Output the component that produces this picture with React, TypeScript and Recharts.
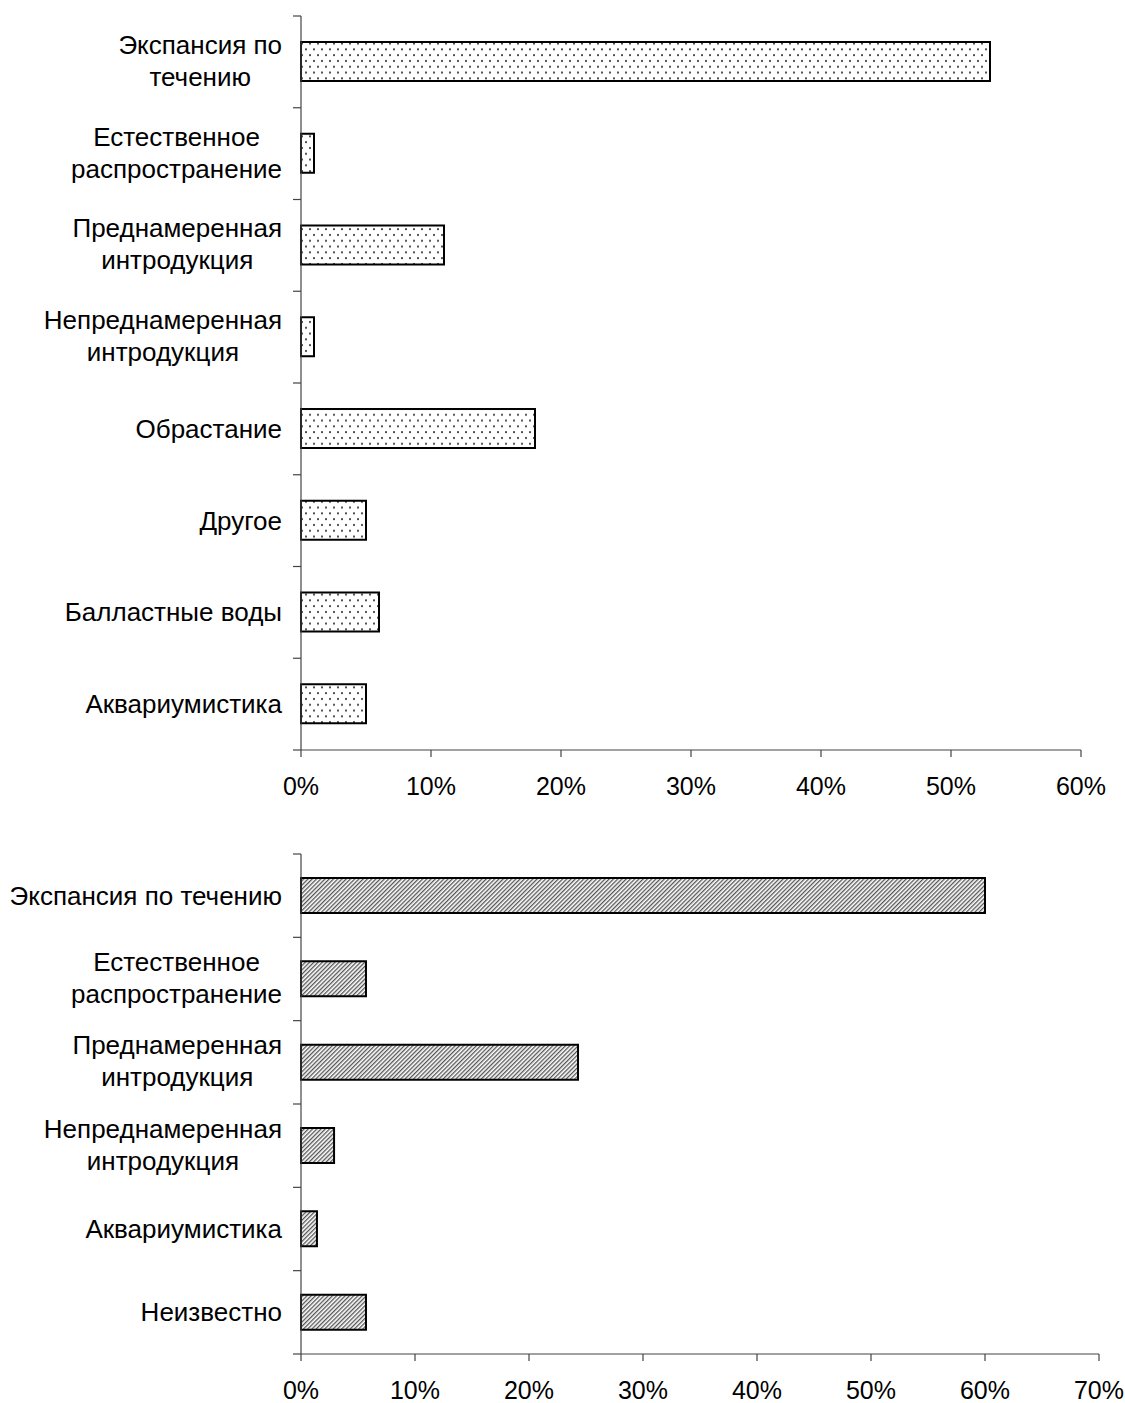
import React from 'react';
import { BarChart, Bar, XAxis, YAxis } from 'recharts';

// Top panel: pathways (share of species, %)
const topCategories = [
  'Экспансия по\nтечению',
  'Естественное\nраспространение',
  'Преднамеренная\nинтродукция',
  'Непреднамеренная\nинтродукция',
  'Обрастание',
  'Другое',
  'Балластные воды',
  'Аквариумистика',
];
const topShares = [53, 1, 11, 1, 18, 5, 6, 5];
const topTicks = [0, 10, 20, 30, 40, 50, 60];

// Bottom panel
const bottomCategories = [
  'Экспансия по течению',
  'Естественное\nраспространение',
  'Преднамеренная\nинтродукция',
  'Непреднамеренная\nинтродукция',
  'Аквариумистика',
  'Неизвестно',
];
const bottomShares = [60, 5.7, 24.3, 2.9, 1.4, 5.7];
const bottomTicks = [0, 10, 20, 30, 40, 50, 60, 70];

const FONT = '"Liberation Sans", Arial, sans-serif';
const LABEL_SIZE = 26;
const TICK_SIZE = 25;
const LINE_GAP = 32;
const AXIS_COLOR = '#444';

const topData = topCategories.map((name, i) => ({ name, value: topShares[i] }));
const bottomData = bottomCategories.map((name, i) => ({ name, value: bottomShares[i] }));

let measureCtx: CanvasRenderingContext2D | null = null;
function textWidth(s: string): number {
  if (!measureCtx) {
    measureCtx = document.createElement('canvas').getContext('2d');
  }
  if (!measureCtx) return s.length * LABEL_SIZE * 0.55;
  measureCtx.font = `${LABEL_SIZE}px "Liberation Sans"`;
  return measureCtx.measureText(s).width;
}

// Category label: lines centred as a block whose right edge sits left of the axis,
// plus a small tick mark on each band boundary.
function CategoryTick(props: any) {
  const { y, payload, index, count, fallbackHalf, axisX } = props;
  const half = payload && typeof payload.offset === 'number' && payload.offset > 0 ? payload.offset : fallbackHalf;
  const lines: string[] = String(payload.value).split('\n');
  const maxW = Math.max(...lines.map(textWidth));
  const right = axisX - 19;
  const cx = right - maxW / 2;
  const firstBaseline = lines.length === 1 ? y + 9 : y - 8;
  return (
    <g>
      <line x1={axisX - 8} x2={axisX} y1={y - half} y2={y - half} stroke={AXIS_COLOR} strokeWidth={1.2} />
      {index === count - 1 && (
        <line x1={axisX - 8} x2={axisX} y1={y + half} y2={y + half} stroke={AXIS_COLOR} strokeWidth={1.2} />
      )}
      {lines.map((ln, i) => (
        <text
          key={i}
          x={cx}
          y={firstBaseline + i * LINE_GAP}
          textAnchor="middle"
          fontFamily={FONT}
          fontSize={LABEL_SIZE}
          fill="#000"
        >
          {ln}
        </text>
      ))}
    </g>
  );
}

function PercentTick(props: any) {
  const { x, y, payload } = props;
  return (
    <text x={x} y={y} dy={38} textAnchor="middle" fontFamily={FONT} fontSize={TICK_SIZE} fill="#000">
      {`${payload.value}%`}
    </text>
  );
}

type PanelProps = {
  data: { name: string; value: number }[];
  ticks: number[];
  top: number;
  height: number;
  marginTop: number;
  marginRight: number;
  barSize: number;
  fill: string;
};

const AXIS_WIDTH = 301;
const X_AXIS_HEIGHT = 50;

function Panel({ data, ticks, top, height, marginTop, marginRight, barSize, fill }: PanelProps) {
  const plotH = height - marginTop - X_AXIS_HEIGHT;
  const fallbackHalf = plotH / data.length / 2;
  return (
    <div style={{ position: 'absolute', left: 0, top }}>
      <BarChart
        width={1125}
        height={height}
        data={data}
        layout="vertical"
        margin={{ top: marginTop, right: marginRight, bottom: 0, left: 0 }}
        style={{ fontFamily: FONT }}
      >
        <XAxis
          type="number"
          domain={[ticks[0], ticks[ticks.length - 1]]}
          ticks={ticks}
          interval={0}
          height={X_AXIS_HEIGHT}
          tickSize={7}
          tickMargin={0}
          axisLine={{ stroke: AXIS_COLOR, strokeWidth: 1.2 }}
          tickLine={{ stroke: AXIS_COLOR, strokeWidth: 1.2 }}
          tick={<PercentTick />}
        />
        <YAxis
          type="category"
          dataKey="name"
          width={AXIS_WIDTH}
          interval={0}
          axisLine={{ stroke: AXIS_COLOR, strokeWidth: 1.2 }}
          tickLine={false}
          tick={(p: any) => (
            <CategoryTick {...p} count={data.length} fallbackHalf={fallbackHalf} axisX={AXIS_WIDTH} />
          )}
        />
        <Bar
          dataKey="value"
          barSize={barSize}
          fill={fill}
          stroke="#000"
          strokeWidth={2}
          isAnimationActive={false}
        />
      </BarChart>
    </div>
  );
}

export default function App() {
  return (
    <div style={{ position: 'absolute', left: 0, top: 0, width: 1125, height: 1403, background: '#fff' }}>
      <svg width={0} height={0} style={{ position: 'absolute' }}>
        <defs>
          <pattern id="dotFill" patternUnits="userSpaceOnUse" width={8} height={11.6}>
            <rect width={8} height={11.6} fill="#fff" />
            <circle cx={2} cy={3} r={1} fill="#222" />
            <circle cx={6} cy={8.8} r={1} fill="#222" />
          </pattern>
          <pattern id="hatchFill" patternUnits="userSpaceOnUse" width={3} height={3} patternTransform="rotate(45)">
            <rect width={3} height={3} fill="#fff" />
            <line x1={0.7} y1={0} x2={0.7} y2={3} stroke="#444" strokeWidth={1.2} />
          </pattern>
        </defs>
      </svg>
      <Panel
        data={topData}
        ticks={topTicks}
        top={0}
        height={800}
        marginTop={16}
        marginRight={44}
        barSize={39}
        fill="url(#dotFill)"
      />
      <Panel
        data={bottomData}
        ticks={bottomTicks}
        top={800}
        height={604}
        marginTop={54}
        marginRight={26}
        barSize={35}
        fill="url(#hatchFill)"
      />
    </div>
  );
}
